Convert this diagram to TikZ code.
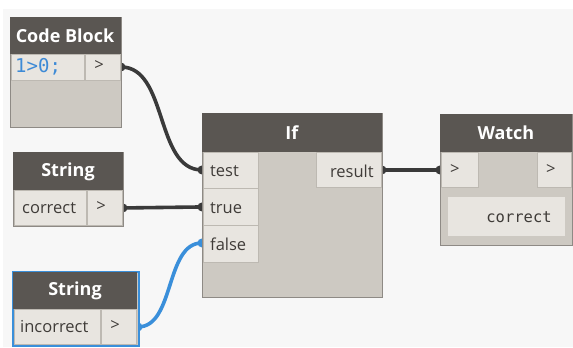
\documentclass[tikz,border=0pt]{standalone}
\usepackage{fontspec}
\setmainfont{Open Sans}
\newfontfamily\monof{DejaVu Sans Mono}
\definecolor{canvasc}{HTML}{F7F7F7}
\definecolor{headc}{HTML}{5A5652}
\definecolor{bodyc}{HTML}{CDC9C2}
\definecolor{cellc}{HTML}{E8E5E0}
\definecolor{framec}{HTML}{8E8A85}
\definecolor{txtc}{HTML}{3F3B38}
\definecolor{wirec}{HTML}{3A3A3A}
\definecolor{selc}{HTML}{3A8FDA}
\definecolor{codec}{HTML}{3D8AD6}
\begin{document}
\begin{tikzpicture}[x=1pt,y={(0pt,-1pt)},
  frame/.style={draw=framec, fill=bodyc, line width=1.1pt, inner sep=0pt, anchor=north west},
  selframe/.style={frame, draw=selc, line width=2.2pt},
  head/.style={fill=headc, inner sep=0pt, anchor=north west},
  title/.style={text=white, font=\bfseries\fontsize{18}{18}\selectfont, inner sep=0pt},
  cell/.style={fill=cellc, draw=bodyc!92!black, line width=0.4pt, inner sep=0pt, anchor=north west},
  valbox/.style={fill=cellc, inner sep=0pt, anchor=north west},
  lbl/.style={text=txtc, font=\fontsize{16.5}{16.5}\selectfont, inner sep=0pt},
  wire/.style={draw=wirec, line width=3.6pt},
  bluewire/.style={draw=selc, line width=3.6pt},
  plug/.style={circle, fill=wirec, minimum size=9pt, inner sep=0pt},
  blueplug/.style={plug, fill=selc}]

% canvas
\path[fill=white] (0,0) rectangle (573,347);
\path[fill=canvasc] (3,9) rectangle (573,347);

% port anchors on the node edges
\coordinate (cbo) at (121,67);
\coordinate (s1o) at (123,208);
\coordinate (s2o) at (138,327);
\coordinate (ift) at (202,170);
\coordinate (iftr) at (202,207);
\coordinate (iff) at (202,243);
\coordinate (ifr) at (382,170);
\coordinate (wi) at (440,170);

% wires (drawn first so the nodes cover the inner half of each plug)
\draw[wire] (cbo) .. controls (168,67) and (155,170) .. (ift);
\draw[wire] (s1o) -- (iftr);
\draw[bluewire] (s2o) .. controls (175,327) and (165,243) .. (iff);
\draw[wire] (ifr) -- (wi);
\foreach \p in {cbo,s1o,ift,iftr,ifr,wi} \node[plug] at (\p) {};
\foreach \p in {s2o,iff} \node[blueplug] at (\p) {};

% Code Block
\node[frame, minimum width=111pt, minimum height=110pt] (cb) at (10,17) {};
\node[head, minimum width=111pt, minimum height=37pt] (cbh) at (10,17) {};
\node[title] (cbt) at (65,36) {Code Block};
\node[cell, minimum width=73pt, minimum height=26pt] (cbin) at (11,54) {};
\node[cell, minimum width=35pt, minimum height=26pt] (cbout) at (85,54) {};
\node[inner sep=0pt, anchor=west, text=codec, font=\monof\fontsize{19}{19}\selectfont] (cbcode) at (15,67) {1>0;};
\node[lbl] (cbg) at (99,66) {>};

% String "correct"
\node[frame, minimum width=110pt, minimum height=74pt] (s1) at (13,152) {};
\node[head, minimum width=110pt, minimum height=38pt] (s1h) at (13,152) {};
\node[title] (s1t) at (68,172) {String};
\node[cell, minimum width=72pt, minimum height=35pt] (s1in) at (14,190) {};
\node[cell, minimum width=35pt, minimum height=35pt] (s1out) at (87,190) {};
\node[lbl, anchor=west] (s1v) at (22,208) {correct};
\node[lbl] (s1g) at (101,207) {>};

% String "incorrect" (selected)
\node[selframe, minimum width=126pt, minimum height=74pt] (s2) at (12,271) {};
\node[head, minimum width=124pt, minimum height=37pt] (s2h) at (13,272) {};
\node[title] (s2t) at (75,291) {String};
\node[cell, minimum width=86pt, minimum height=35pt] (s2in) at (14,309) {};
\node[cell, minimum width=35pt, minimum height=35pt] (s2out) at (101,309) {};
\node[lbl, anchor=west] (s2v) at (20,327) {incorrect};
\node[lbl] (s2g) at (115,326) {>};

% If
\node[frame, minimum width=180pt, minimum height=184pt] (ifn) at (202,113) {};
\node[head, minimum width=180pt, minimum height=39pt] (ifh) at (202,113) {};
\node[title] (ifti) at (292,133) {If};
\node[cell, minimum width=55pt, minimum height=36pt] (iftest) at (203,152) {};
\node[cell, minimum width=55pt, minimum height=37pt] (iftrue) at (203,188) {};
\node[cell, minimum width=55pt, minimum height=37pt] (iffalse) at (203,225) {};
\node[cell, minimum width=65pt, minimum height=35pt] (ifres) at (316,152) {};
\node[lbl, anchor=west] (ifl1) at (210,171) {test};
\node[lbl, anchor=west] (ifl2) at (210,208) {true};
\node[lbl, anchor=west] (ifl3) at (210,244) {false};
\node[lbl, anchor=east] (ifl4) at (374,171) {result};

% Watch
\node[frame, minimum width=132pt, minimum height=131pt] (wn) at (440,114) {};
\node[head, minimum width=132pt, minimum height=38pt] (wh) at (440,114) {};
\node[title] (wt) at (506,133) {Watch};
\node[cell, minimum width=37pt, minimum height=35pt] (win) at (441,152) {};
\node[cell, minimum width=34pt, minimum height=35pt] (wout) at (537,152) {};
\node[lbl] (wg1) at (455,170) {>};
\node[lbl] (wg2) at (551,170) {>};
\node[valbox, minimum width=117pt, minimum height=39pt] (wval) at (448,197) {};
\node[inner sep=0pt, anchor=east, text=txtc, font=\monof\fontsize{15.5}{15.5}\selectfont] (wvt) at (552,217) {correct};
\end{tikzpicture}
\end{document}
